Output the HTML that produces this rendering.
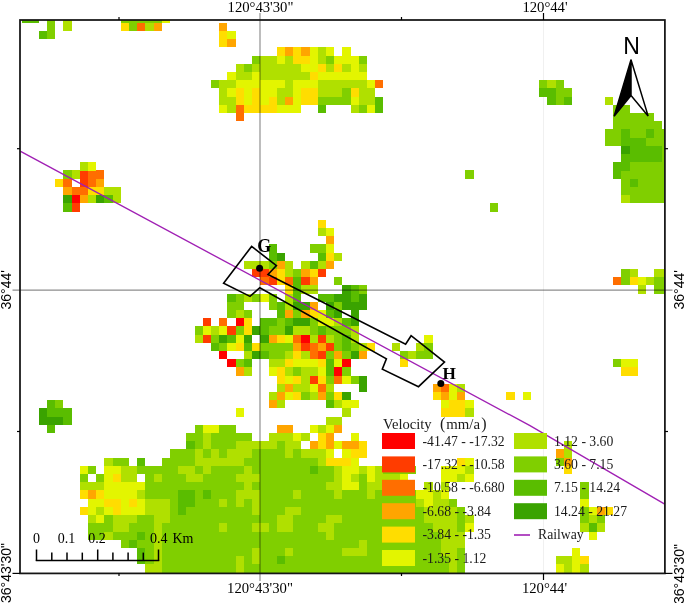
<!DOCTYPE html>
<html><head><meta charset="utf-8"><style>
html,body{margin:0;padding:0;background:#fff;}
svg{display:block;will-change:transform;}

.sf{font-family:"Liberation Serif",serif;}
.ss{font-family:"Liberation Sans",sans-serif;}
</style></head><body>
<svg width="685" height="603" viewBox="0 0 685 603">
<defs><clipPath id="mc"><rect x="20" y="20" width="645" height="553"/></clipPath></defs>
<rect width="685" height="603" fill="#fff"/>
<line x1="543.5" y1="21" x2="543.5" y2="572" stroke="#f0f0f0" stroke-width="1"/>
<g clip-path="url(#mc)" shape-rendering="crispEdges">
<path fill="#ff0000" d="M71.59 195.11h8.21v8.21h-8.21zM235.69 318.18h8.21v8.21h-8.21zM301.33 334.59h8.21v8.21h-8.21zM219.28 351.00h8.21v8.21h-8.21zM227.49 359.21h8.21v8.21h-8.21zM342.36 359.21h8.21v8.21h-8.21zM334.15 367.41h8.21v8.21h-8.21z"/>
<path fill="#ff3c00" d="M79.80 170.49h8.21v8.21h-8.21zM79.80 178.70h8.21v8.21h-8.21zM71.59 203.31h8.21v8.21h-8.21zM252.10 268.95h16.41v8.21h-16.41zM317.74 268.95h8.21v8.21h-8.21zM268.51 277.15h8.21v8.21h-8.21zM301.33 277.15h8.21v8.21h-8.21zM202.87 318.18h8.21v8.21h-8.21zM227.49 326.38h8.21v8.21h-8.21zM202.87 334.59h8.21v8.21h-8.21zM317.74 334.59h8.21v8.21h-8.21zM301.33 342.80h8.21v8.21h-8.21zM325.94 342.80h8.21v8.21h-8.21zM317.74 351.00h8.21v8.21h-8.21zM309.54 375.62h8.21v8.21h-8.21z"/>
<path fill="#ff6e00" d="M137.23 22.80h8.21v8.21h-8.21zM375.18 80.23h8.21v8.21h-8.21zM235.69 104.85h8.21v8.21h-8.21zM235.69 113.05h8.21v8.21h-8.21zM88.00 170.49h16.41v8.21h-16.41zM63.38 178.70h8.21v8.21h-8.21zM88.00 178.70h8.21v8.21h-8.21zM71.59 186.90h16.41v8.21h-16.41zM260.31 277.15h8.21v8.21h-8.21zM284.92 277.15h8.21v8.21h-8.21zM613.12 277.15h8.21v8.21h-8.21zM219.28 318.18h8.21v8.21h-8.21zM293.12 334.59h8.21v8.21h-8.21zM309.54 342.80h8.21v8.21h-8.21zM309.54 351.00h8.21v8.21h-8.21zM334.15 375.62h8.21v8.21h-8.21zM317.74 383.82h8.21v8.21h-8.21zM440.81 383.82h8.21v8.21h-8.21z"/>
<path fill="#ffa500" d="M153.64 22.80h8.21v8.21h-8.21zM219.28 22.80h8.21v8.21h-8.21zM227.49 39.21h8.21v8.21h-8.21zM284.92 47.42h8.21v8.21h-8.21zM301.33 47.42h8.21v8.21h-8.21zM284.92 96.64h8.21v8.21h-8.21zM96.20 178.70h8.21v8.21h-8.21zM63.38 186.90h8.21v8.21h-8.21zM79.80 195.11h8.21v8.21h-8.21zM325.94 236.13h8.21v8.21h-8.21zM276.71 260.75h8.21v8.21h-8.21zM325.94 260.75h8.21v8.21h-8.21zM268.51 268.95h8.21v8.21h-8.21zM301.33 268.95h8.21v8.21h-8.21zM309.54 277.15h8.21v8.21h-8.21zM309.54 301.77h8.21v8.21h-8.21zM284.92 309.98h8.21v8.21h-8.21zM301.33 309.98h8.21v8.21h-8.21zM268.51 334.59h8.21v8.21h-8.21zM293.12 342.80h8.21v8.21h-8.21zM317.74 342.80h8.21v8.21h-8.21zM334.15 351.00h8.21v8.21h-8.21zM358.77 351.00h8.21v8.21h-8.21zM235.69 367.41h8.21v8.21h-8.21zM284.92 383.82h8.21v8.21h-8.21zM432.61 383.82h8.21v8.21h-8.21zM276.71 392.03h8.21v8.21h-8.21zM317.74 392.03h8.21v8.21h-8.21zM440.81 392.03h8.21v8.21h-8.21zM457.23 392.03h8.21v8.21h-8.21zM268.51 400.23h8.21v8.21h-8.21zM276.71 424.85h16.41v8.21h-16.41zM334.15 424.85h8.21v8.21h-8.21zM325.94 433.05h8.21v8.21h-8.21zM309.54 441.25h8.21v8.21h-8.21zM325.94 441.25h8.21v8.21h-8.21zM342.36 441.25h16.41v8.21h-16.41zM555.69 449.46h8.21v8.21h-8.21zM563.89 457.67h8.21v8.21h-8.21zM88.00 490.49h8.21v8.21h-8.21zM596.71 506.90h8.21v8.21h-8.21z"/>
<path fill="#ffdd00" d="M120.82 22.80h8.21v8.21h-8.21zM219.28 31.01h8.21v8.21h-8.21zM219.28 39.21h8.21v8.21h-8.21zM276.71 47.42h8.21v8.21h-8.21zM293.12 47.42h8.21v8.21h-8.21zM293.12 55.62h16.41v8.21h-16.41zM317.74 63.83h8.21v8.21h-8.21zM334.15 63.83h8.21v8.21h-8.21zM309.54 72.03h8.21v8.21h-8.21zM235.69 88.44h8.21v8.21h-8.21zM252.10 88.44h8.21v8.21h-8.21zM301.33 88.44h16.41v8.21h-16.41zM350.56 88.44h8.21v8.21h-8.21zM235.69 96.64h8.21v8.21h-8.21zM252.10 96.64h8.21v8.21h-8.21zM268.51 96.64h8.21v8.21h-8.21zM301.33 96.64h16.41v8.21h-16.41zM243.89 104.85h32.82v8.21h-32.82zM55.18 178.70h8.21v8.21h-8.21zM88.00 186.90h16.41v8.21h-16.41zM317.74 219.72h8.21v8.21h-8.21zM325.94 252.54h8.21v8.21h-8.21zM276.71 268.95h8.21v8.21h-8.21zM309.54 268.95h8.21v8.21h-8.21zM276.71 277.15h8.21v8.21h-8.21zM629.53 277.15h8.21v8.21h-8.21zM284.92 285.36h8.21v8.21h-8.21zM309.54 309.98h8.21v8.21h-8.21zM243.89 318.18h8.21v8.21h-8.21zM243.89 326.38h8.21v8.21h-8.21zM276.71 334.59h8.21v8.21h-8.21zM235.69 342.80h8.21v8.21h-8.21zM252.10 342.80h8.21v8.21h-8.21zM366.97 342.80h8.21v8.21h-8.21zM293.12 351.00h8.21v8.21h-8.21zM284.92 359.21h8.21v8.21h-8.21zM317.74 359.21h8.21v8.21h-8.21zM399.79 359.21h8.21v8.21h-8.21zM276.71 367.41h8.21v8.21h-8.21zM621.33 367.41h16.41v8.21h-16.41zM276.71 375.62h8.21v8.21h-8.21zM293.12 375.62h8.21v8.21h-8.21zM317.74 375.62h8.21v8.21h-8.21zM293.12 392.03h8.21v8.21h-8.21zM334.15 392.03h8.21v8.21h-8.21zM432.61 392.03h8.21v8.21h-8.21zM506.46 392.03h8.21v8.21h-8.21zM449.02 400.23h16.41v8.21h-16.41zM440.81 408.44h24.62v8.21h-24.62zM317.74 433.05h8.21v8.21h-8.21zM317.74 441.25h8.21v8.21h-8.21zM358.77 441.25h8.21v8.21h-8.21zM350.56 449.46h16.41v8.21h-16.41zM325.94 457.67h24.62v8.21h-24.62zM457.23 457.67h8.21v8.21h-8.21zM563.89 465.87h8.21v8.21h-8.21zM112.61 474.07h8.21v8.21h-8.21zM79.80 490.49h8.21v8.21h-8.21zM96.20 490.49h8.21v8.21h-8.21zM104.41 498.69h16.41v8.21h-16.41zM129.03 498.69h8.21v8.21h-8.21zM79.80 506.90h8.21v8.21h-8.21zM112.61 506.90h8.21v8.21h-8.21zM604.91 506.90h8.21v8.21h-8.21zM580.30 556.12h8.21v8.21h-8.21z"/>
<path fill="#e3f500" d="M161.85 14.60h8.21v8.21h-8.21zM227.49 31.01h8.21v8.21h-8.21zM309.54 47.42h8.21v8.21h-8.21zM325.94 47.42h8.21v8.21h-8.21zM342.36 47.42h8.21v8.21h-8.21zM276.71 55.62h8.21v8.21h-8.21zM309.54 55.62h8.21v8.21h-8.21zM334.15 55.62h24.62v8.21h-24.62zM301.33 63.83h16.41v8.21h-16.41zM350.56 63.83h8.21v8.21h-8.21zM227.49 72.03h8.21v8.21h-8.21zM252.10 72.03h8.21v8.21h-8.21zM317.74 72.03h49.23v8.21h-49.23zM235.69 80.23h49.23v8.21h-49.23zM293.12 80.23h24.62v8.21h-24.62zM366.97 80.23h8.21v8.21h-8.21zM227.49 88.44h8.21v8.21h-8.21zM243.89 88.44h8.21v8.21h-8.21zM260.31 88.44h16.41v8.21h-16.41zM293.12 88.44h8.21v8.21h-8.21zM243.89 96.64h8.21v8.21h-8.21zM260.31 96.64h8.21v8.21h-8.21zM293.12 96.64h8.21v8.21h-8.21zM350.56 96.64h8.21v8.21h-8.21zM219.28 104.85h8.21v8.21h-8.21zM276.71 104.85h24.62v8.21h-24.62zM366.97 104.85h8.21v8.21h-8.21zM88.00 162.29h8.21v8.21h-8.21zM325.94 227.93h8.21v8.21h-8.21zM325.94 244.34h8.21v8.21h-8.21zM637.74 277.15h8.21v8.21h-8.21zM260.31 293.56h8.21v8.21h-8.21zM317.74 309.98h8.21v8.21h-8.21zM317.74 318.18h16.41v8.21h-16.41zM202.87 326.38h8.21v8.21h-8.21zM219.28 326.38h8.21v8.21h-8.21zM235.69 334.59h8.21v8.21h-8.21zM284.92 334.59h8.21v8.21h-8.21zM424.41 334.59h8.21v8.21h-8.21zM227.49 342.80h8.21v8.21h-8.21zM293.12 359.21h24.62v8.21h-24.62zM334.15 359.21h8.21v8.21h-8.21zM621.33 359.21h16.41v8.21h-16.41zM268.51 367.41h8.21v8.21h-8.21zM317.74 367.41h8.21v8.21h-8.21zM284.92 375.62h8.21v8.21h-8.21zM342.36 375.62h8.21v8.21h-8.21zM309.54 383.82h8.21v8.21h-8.21zM449.02 383.82h8.21v8.21h-8.21zM284.92 392.03h8.21v8.21h-8.21zM449.02 392.03h8.21v8.21h-8.21zM522.87 392.03h8.21v8.21h-8.21zM342.36 400.23h16.41v8.21h-16.41zM440.81 400.23h8.21v8.21h-8.21zM465.43 400.23h8.21v8.21h-8.21zM235.69 408.44h8.21v8.21h-8.21zM202.87 424.85h16.41v8.21h-16.41zM309.54 424.85h8.21v8.21h-8.21zM325.94 424.85h8.21v8.21h-8.21zM293.12 433.05h8.21v8.21h-8.21zM350.56 433.05h8.21v8.21h-8.21zM334.15 441.25h8.21v8.21h-8.21zM325.94 449.46h8.21v8.21h-8.21zM342.36 449.46h8.21v8.21h-8.21zM350.56 457.67h8.21v8.21h-8.21zM465.43 457.67h8.21v8.21h-8.21zM79.80 465.87h8.21v8.21h-8.21zM104.41 465.87h16.41v8.21h-16.41zM342.36 465.87h16.41v8.21h-16.41zM366.97 465.87h8.21v8.21h-8.21zM440.81 465.87h24.62v8.21h-24.62zM104.41 474.07h8.21v8.21h-8.21zM342.36 474.07h8.21v8.21h-8.21zM366.97 474.07h8.21v8.21h-8.21zM399.79 474.07h8.21v8.21h-8.21zM440.81 474.07h16.41v8.21h-16.41zM465.43 474.07h8.21v8.21h-8.21zM104.41 482.28h41.02v8.21h-41.02zM342.36 482.28h16.41v8.21h-16.41zM104.41 490.49h32.82v8.21h-32.82zM416.20 490.49h16.41v8.21h-16.41zM440.81 490.49h8.21v8.21h-8.21zM88.00 498.69h16.41v8.21h-16.41zM120.82 498.69h8.21v8.21h-8.21zM137.23 498.69h8.21v8.21h-8.21zM424.41 498.69h8.21v8.21h-8.21zM580.30 498.69h8.21v8.21h-8.21zM88.00 506.90h8.21v8.21h-8.21zM104.41 506.90h8.21v8.21h-8.21zM120.82 506.90h24.62v8.21h-24.62zM588.50 506.90h8.21v8.21h-8.21zM96.20 515.10h8.21v8.21h-8.21zM465.43 523.30h8.21v8.21h-8.21zM588.50 531.51h8.21v8.21h-8.21zM572.10 547.92h8.21v8.21h-8.21zM572.10 556.12h8.21v8.21h-8.21zM555.69 564.33h8.21v8.21h-8.21zM572.10 564.33h8.21v8.21h-8.21z"/>
<path fill="#b0e000" d="M63.38 14.60h8.21v8.21h-8.21zM63.38 22.80h8.21v8.21h-8.21zM145.44 22.80h8.21v8.21h-8.21zM317.74 47.42h8.21v8.21h-8.21zM260.31 55.62h16.41v8.21h-16.41zM284.92 55.62h8.21v8.21h-8.21zM317.74 55.62h8.21v8.21h-8.21zM235.69 63.83h8.21v8.21h-8.21zM252.10 63.83h49.23v8.21h-49.23zM325.94 63.83h8.21v8.21h-8.21zM342.36 63.83h8.21v8.21h-8.21zM358.77 63.83h8.21v8.21h-8.21zM235.69 72.03h16.41v8.21h-16.41zM260.31 72.03h49.23v8.21h-49.23zM219.28 80.23h16.41v8.21h-16.41zM284.92 80.23h8.21v8.21h-8.21zM317.74 80.23h49.23v8.21h-49.23zM547.48 80.23h8.21v8.21h-8.21zM219.28 88.44h8.21v8.21h-8.21zM276.71 88.44h16.41v8.21h-16.41zM317.74 88.44h24.62v8.21h-24.62zM358.77 88.44h16.41v8.21h-16.41zM219.28 96.64h16.41v8.21h-16.41zM276.71 96.64h8.21v8.21h-8.21zM358.77 96.64h16.41v8.21h-16.41zM604.91 96.64h8.21v8.21h-8.21zM227.49 104.85h8.21v8.21h-8.21zM350.56 104.85h8.21v8.21h-8.21zM79.80 162.29h8.21v8.21h-8.21zM71.59 170.49h8.21v8.21h-8.21zM104.41 186.90h16.41v8.21h-16.41zM88.00 195.11h8.21v8.21h-8.21zM112.61 195.11h8.21v8.21h-8.21zM621.33 195.11h8.21v8.21h-8.21zM317.74 227.93h8.21v8.21h-8.21zM334.15 252.54h8.21v8.21h-8.21zM243.89 260.75h24.62v8.21h-24.62zM284.92 260.75h8.21v8.21h-8.21zM301.33 260.75h8.21v8.21h-8.21zM317.74 260.75h8.21v8.21h-8.21zM284.92 268.95h8.21v8.21h-8.21zM629.53 268.95h8.21v8.21h-8.21zM654.14 268.95h16.41v8.21h-16.41zM645.94 277.15h8.21v8.21h-8.21zM301.33 285.36h16.41v8.21h-16.41zM637.74 285.36h8.21v8.21h-8.21zM243.89 293.56h8.21v8.21h-8.21zM284.92 293.56h8.21v8.21h-8.21zM284.92 301.77h8.21v8.21h-8.21zM235.69 309.98h8.21v8.21h-8.21zM334.15 318.18h8.21v8.21h-8.21zM211.07 326.38h8.21v8.21h-8.21zM293.12 326.38h16.41v8.21h-16.41zM350.56 326.38h8.21v8.21h-8.21zM194.67 334.59h8.21v8.21h-8.21zM309.54 334.59h8.21v8.21h-8.21zM325.94 334.59h8.21v8.21h-8.21zM350.56 334.59h8.21v8.21h-8.21zM358.77 342.80h8.21v8.21h-8.21zM391.59 342.80h8.21v8.21h-8.21zM416.20 342.80h8.21v8.21h-8.21zM243.89 351.00h8.21v8.21h-8.21zM284.92 351.00h8.21v8.21h-8.21zM301.33 351.00h8.21v8.21h-8.21zM408.00 351.00h8.21v8.21h-8.21zM268.51 359.21h16.41v8.21h-16.41zM243.89 367.41h8.21v8.21h-8.21zM284.92 367.41h8.21v8.21h-8.21zM301.33 367.41h16.41v8.21h-16.41zM301.33 375.62h8.21v8.21h-8.21zM276.71 383.82h8.21v8.21h-8.21zM293.12 383.82h16.41v8.21h-16.41zM325.94 383.82h8.21v8.21h-8.21zM457.23 383.82h8.21v8.21h-8.21zM268.51 392.03h8.21v8.21h-8.21zM309.54 392.03h8.21v8.21h-8.21zM276.71 400.23h8.21v8.21h-8.21zM334.15 400.23h8.21v8.21h-8.21zM342.36 408.44h8.21v8.21h-8.21zM465.43 408.44h8.21v8.21h-8.21zM325.94 416.64h16.41v8.21h-16.41zM317.74 424.85h8.21v8.21h-8.21zM202.87 433.05h8.21v8.21h-8.21zM268.51 433.05h24.62v8.21h-24.62zM301.33 433.05h8.21v8.21h-8.21zM202.87 441.25h8.21v8.21h-8.21zM235.69 441.25h41.02v8.21h-41.02zM284.92 441.25h16.41v8.21h-16.41zM563.89 441.25h8.21v8.21h-8.21zM194.67 449.46h8.21v8.21h-8.21zM211.07 449.46h8.21v8.21h-8.21zM227.49 449.46h24.62v8.21h-24.62zM284.92 449.46h8.21v8.21h-8.21zM301.33 449.46h24.62v8.21h-24.62zM563.89 449.46h8.21v8.21h-8.21zM104.41 457.67h8.21v8.21h-8.21zM194.67 457.67h49.23v8.21h-49.23zM317.74 457.67h8.21v8.21h-8.21zM120.82 465.87h16.41v8.21h-16.41zM178.25 465.87h16.41v8.21h-16.41zM202.87 465.87h8.21v8.21h-8.21zM243.89 465.87h8.21v8.21h-8.21zM334.15 465.87h8.21v8.21h-8.21zM358.77 465.87h8.21v8.21h-8.21zM375.18 465.87h8.21v8.21h-8.21zM465.43 465.87h8.21v8.21h-8.21zM120.82 474.07h16.41v8.21h-16.41zM153.64 474.07h8.21v8.21h-8.21zM186.46 474.07h16.41v8.21h-16.41zM235.69 474.07h24.62v8.21h-24.62zM334.15 474.07h8.21v8.21h-8.21zM350.56 474.07h8.21v8.21h-8.21zM375.18 474.07h24.62v8.21h-24.62zM457.23 474.07h8.21v8.21h-8.21zM79.80 482.28h24.62v8.21h-24.62zM243.89 482.28h8.21v8.21h-8.21zM325.94 482.28h16.41v8.21h-16.41zM366.97 482.28h16.41v8.21h-16.41zM424.41 482.28h8.21v8.21h-8.21zM440.81 482.28h8.21v8.21h-8.21zM137.23 490.49h8.21v8.21h-8.21zM235.69 490.49h24.62v8.21h-24.62zM293.12 490.49h8.21v8.21h-8.21zM334.15 490.49h8.21v8.21h-8.21zM366.97 490.49h8.21v8.21h-8.21zM432.61 490.49h8.21v8.21h-8.21zM145.44 498.69h24.62v8.21h-24.62zM219.28 498.69h8.21v8.21h-8.21zM235.69 498.69h8.21v8.21h-8.21zM252.10 498.69h8.21v8.21h-8.21zM416.20 498.69h8.21v8.21h-8.21zM432.61 498.69h16.41v8.21h-16.41zM96.20 506.90h8.21v8.21h-8.21zM145.44 506.90h24.62v8.21h-24.62zM252.10 506.90h8.21v8.21h-8.21zM284.92 506.90h16.41v8.21h-16.41zM424.41 506.90h32.82v8.21h-32.82zM88.00 515.10h8.21v8.21h-8.21zM112.61 515.10h24.62v8.21h-24.62zM153.64 515.10h16.41v8.21h-16.41zM276.71 515.10h16.41v8.21h-16.41zM325.94 515.10h16.41v8.21h-16.41zM424.41 515.10h32.82v8.21h-32.82zM465.43 515.10h8.21v8.21h-8.21zM588.50 515.10h8.21v8.21h-8.21zM112.61 523.30h16.41v8.21h-16.41zM153.64 523.30h8.21v8.21h-8.21zM219.28 523.30h8.21v8.21h-8.21zM252.10 523.30h16.41v8.21h-16.41zM276.71 523.30h16.41v8.21h-16.41zM317.74 523.30h16.41v8.21h-16.41zM432.61 523.30h24.62v8.21h-24.62zM580.30 523.30h8.21v8.21h-8.21zM596.71 523.30h8.21v8.21h-8.21zM104.41 531.51h8.21v8.21h-8.21zM153.64 531.51h8.21v8.21h-8.21zM325.94 531.51h8.21v8.21h-8.21zM440.81 531.51h24.62v8.21h-24.62zM153.64 539.71h8.21v8.21h-8.21zM358.77 539.71h8.21v8.21h-8.21zM440.81 539.71h24.62v8.21h-24.62zM153.64 547.92h8.21v8.21h-8.21zM252.10 547.92h8.21v8.21h-8.21zM284.92 547.92h8.21v8.21h-8.21zM342.36 547.92h24.62v8.21h-24.62zM440.81 547.92h16.41v8.21h-16.41zM153.64 556.12h8.21v8.21h-8.21zM235.69 556.12h8.21v8.21h-8.21zM252.10 556.12h8.21v8.21h-8.21zM449.02 556.12h8.21v8.21h-8.21zM555.69 556.12h16.41v8.21h-16.41zM145.44 564.33h16.41v8.21h-16.41zM235.69 564.33h8.21v8.21h-8.21zM449.02 564.33h8.21v8.21h-8.21zM563.89 564.33h8.21v8.21h-8.21zM580.30 564.33h8.21v8.21h-8.21z"/>
<path fill="#80cf00" d="M46.98 14.60h8.21v8.21h-8.21zM120.82 14.60h41.02v8.21h-41.02zM46.98 22.80h8.21v8.21h-8.21zM129.03 22.80h8.21v8.21h-8.21zM46.98 31.01h8.21v8.21h-8.21zM252.10 55.62h8.21v8.21h-8.21zM325.94 55.62h8.21v8.21h-8.21zM358.77 55.62h8.21v8.21h-8.21zM243.89 63.83h8.21v8.21h-8.21zM211.07 80.23h8.21v8.21h-8.21zM539.27 80.23h8.21v8.21h-8.21zM555.69 80.23h8.21v8.21h-8.21zM342.36 88.44h8.21v8.21h-8.21zM555.69 88.44h16.41v8.21h-16.41zM317.74 96.64h32.82v8.21h-32.82zM555.69 96.64h8.21v8.21h-8.21zM358.77 104.85h8.21v8.21h-8.21zM613.12 104.85h16.41v8.21h-16.41zM613.12 113.05h41.02v8.21h-41.02zM613.12 121.26h49.23v8.21h-49.23zM604.91 129.47h16.41v8.21h-16.41zM629.53 129.47h16.41v8.21h-16.41zM654.14 129.47h16.41v8.21h-16.41zM604.91 137.67h16.41v8.21h-16.41zM645.94 137.67h24.62v8.21h-24.62zM662.35 145.88h8.21v8.21h-8.21zM662.35 154.08h8.21v8.21h-8.21zM629.53 162.29h49.23v8.21h-49.23zM63.38 170.49h8.21v8.21h-8.21zM465.43 170.49h8.21v8.21h-8.21zM621.33 170.49h49.23v8.21h-49.23zM621.33 178.70h8.21v8.21h-8.21zM637.74 178.70h32.82v8.21h-32.82zM621.33 186.90h49.23v8.21h-49.23zM629.53 195.11h41.02v8.21h-41.02zM490.05 203.31h8.21v8.21h-8.21zM309.54 244.34h16.41v8.21h-16.41zM268.51 260.75h8.21v8.21h-8.21zM293.12 268.95h8.21v8.21h-8.21zM621.33 268.95h8.21v8.21h-8.21zM334.15 277.15h8.21v8.21h-8.21zM621.33 277.15h8.21v8.21h-8.21zM654.14 277.15h16.41v8.21h-16.41zM358.77 285.36h8.21v8.21h-8.21zM654.14 285.36h16.41v8.21h-16.41zM235.69 293.56h8.21v8.21h-8.21zM252.10 293.56h8.21v8.21h-8.21zM268.51 293.56h8.21v8.21h-8.21zM227.49 301.77h16.41v8.21h-16.41zM268.51 301.77h8.21v8.21h-8.21zM334.15 301.77h8.21v8.21h-8.21zM227.49 309.98h8.21v8.21h-8.21zM243.89 309.98h8.21v8.21h-8.21zM293.12 309.98h8.21v8.21h-8.21zM276.71 318.18h8.21v8.21h-8.21zM309.54 318.18h8.21v8.21h-8.21zM194.67 326.38h8.21v8.21h-8.21zM235.69 326.38h8.21v8.21h-8.21zM268.51 326.38h16.41v8.21h-16.41zM309.54 326.38h8.21v8.21h-8.21zM325.94 326.38h24.62v8.21h-24.62zM211.07 334.59h8.21v8.21h-8.21zM334.15 334.59h8.21v8.21h-8.21zM219.28 342.80h8.21v8.21h-8.21zM260.31 342.80h32.82v8.21h-32.82zM334.15 342.80h8.21v8.21h-8.21zM350.56 342.80h8.21v8.21h-8.21zM424.41 342.80h8.21v8.21h-8.21zM268.51 351.00h16.41v8.21h-16.41zM325.94 351.00h8.21v8.21h-8.21zM342.36 351.00h8.21v8.21h-8.21zM399.79 351.00h8.21v8.21h-8.21zM416.20 351.00h16.41v8.21h-16.41zM235.69 359.21h8.21v8.21h-8.21zM613.12 359.21h8.21v8.21h-8.21zM293.12 367.41h8.21v8.21h-8.21zM342.36 367.41h8.21v8.21h-8.21zM325.94 375.62h8.21v8.21h-8.21zM350.56 375.62h8.21v8.21h-8.21zM301.33 392.03h8.21v8.21h-8.21zM325.94 392.03h8.21v8.21h-8.21zM55.18 400.23h8.21v8.21h-8.21zM194.67 424.85h8.21v8.21h-8.21zM219.28 424.85h16.41v8.21h-16.41zM186.46 433.05h16.41v8.21h-16.41zM211.07 433.05h41.02v8.21h-41.02zM194.67 441.25h8.21v8.21h-8.21zM211.07 441.25h24.62v8.21h-24.62zM276.71 441.25h8.21v8.21h-8.21zM170.05 449.46h24.62v8.21h-24.62zM202.87 449.46h8.21v8.21h-8.21zM219.28 449.46h8.21v8.21h-8.21zM252.10 449.46h32.82v8.21h-32.82zM293.12 449.46h8.21v8.21h-8.21zM112.61 457.67h16.41v8.21h-16.41zM161.85 457.67h32.82v8.21h-32.82zM243.89 457.67h73.84v8.21h-73.84zM555.69 457.67h8.21v8.21h-8.21zM88.00 465.87h8.21v8.21h-8.21zM137.23 465.87h41.02v8.21h-41.02zM194.67 465.87h8.21v8.21h-8.21zM211.07 465.87h32.82v8.21h-32.82zM252.10 465.87h57.44v8.21h-57.44zM317.74 465.87h16.41v8.21h-16.41zM383.38 465.87h32.82v8.21h-32.82zM79.80 474.07h8.21v8.21h-8.21zM96.20 474.07h8.21v8.21h-8.21zM145.44 474.07h8.21v8.21h-8.21zM161.85 474.07h24.62v8.21h-24.62zM202.87 474.07h32.82v8.21h-32.82zM260.31 474.07h73.84v8.21h-73.84zM358.77 474.07h8.21v8.21h-8.21zM145.44 482.28h98.46v8.21h-98.46zM252.10 482.28h73.84v8.21h-73.84zM358.77 482.28h8.21v8.21h-8.21zM383.38 482.28h24.62v8.21h-24.62zM580.30 482.28h8.21v8.21h-8.21zM145.44 490.49h32.82v8.21h-32.82zM194.67 490.49h8.21v8.21h-8.21zM211.07 490.49h24.62v8.21h-24.62zM260.31 490.49h32.82v8.21h-32.82zM301.33 490.49h32.82v8.21h-32.82zM342.36 490.49h24.62v8.21h-24.62zM375.18 490.49h41.02v8.21h-41.02zM580.30 490.49h8.21v8.21h-8.21zM170.05 498.69h8.21v8.21h-8.21zM194.67 498.69h24.62v8.21h-24.62zM227.49 498.69h8.21v8.21h-8.21zM243.89 498.69h8.21v8.21h-8.21zM260.31 498.69h155.90v8.21h-155.90zM449.02 498.69h8.21v8.21h-8.21zM170.05 506.90h8.21v8.21h-8.21zM186.46 506.90h65.64v8.21h-65.64zM260.31 506.90h24.62v8.21h-24.62zM301.33 506.90h123.08v8.21h-123.08zM457.23 506.90h8.21v8.21h-8.21zM580.30 506.90h8.21v8.21h-8.21zM104.41 515.10h8.21v8.21h-8.21zM137.23 515.10h16.41v8.21h-16.41zM170.05 515.10h106.67v8.21h-106.67zM293.12 515.10h32.82v8.21h-32.82zM342.36 515.10h82.05v8.21h-82.05zM457.23 515.10h8.21v8.21h-8.21zM580.30 515.10h8.21v8.21h-8.21zM596.71 515.10h8.21v8.21h-8.21zM88.00 523.30h24.62v8.21h-24.62zM129.03 523.30h24.62v8.21h-24.62zM161.85 523.30h57.44v8.21h-57.44zM227.49 523.30h24.62v8.21h-24.62zM268.51 523.30h8.21v8.21h-8.21zM293.12 523.30h24.62v8.21h-24.62zM334.15 523.30h98.46v8.21h-98.46zM457.23 523.30h8.21v8.21h-8.21zM88.00 531.51h16.41v8.21h-16.41zM112.61 531.51h24.62v8.21h-24.62zM145.44 531.51h8.21v8.21h-8.21zM161.85 531.51h164.10v8.21h-164.10zM334.15 531.51h106.67v8.21h-106.67zM120.82 539.71h8.21v8.21h-8.21zM137.23 539.71h16.41v8.21h-16.41zM161.85 539.71h196.92v8.21h-196.92zM366.97 539.71h73.84v8.21h-73.84zM145.44 547.92h8.21v8.21h-8.21zM161.85 547.92h90.25v8.21h-90.25zM260.31 547.92h24.62v8.21h-24.62zM293.12 547.92h49.23v8.21h-49.23zM366.97 547.92h73.84v8.21h-73.84zM457.23 547.92h8.21v8.21h-8.21zM145.44 556.12h8.21v8.21h-8.21zM161.85 556.12h73.84v8.21h-73.84zM243.89 556.12h8.21v8.21h-8.21zM260.31 556.12h16.41v8.21h-16.41zM284.92 556.12h164.10v8.21h-164.10zM457.23 556.12h8.21v8.21h-8.21zM161.85 564.33h73.84v8.21h-73.84zM243.89 564.33h205.12v8.21h-205.12zM457.23 564.33h8.21v8.21h-8.21z"/>
<path fill="#5abd00" d="M22.36 14.60h16.41v8.21h-16.41zM38.77 31.01h8.21v8.21h-8.21zM539.27 88.44h16.41v8.21h-16.41zM375.18 96.64h8.21v8.21h-8.21zM547.48 96.64h8.21v8.21h-8.21zM563.89 96.64h8.21v8.21h-8.21zM317.74 104.85h8.21v8.21h-8.21zM375.18 104.85h8.21v8.21h-8.21zM621.33 129.47h8.21v8.21h-8.21zM645.94 129.47h8.21v8.21h-8.21zM621.33 137.67h24.62v8.21h-24.62zM629.53 145.88h32.82v8.21h-32.82zM621.33 154.08h41.02v8.21h-41.02zM613.12 162.29h16.41v8.21h-16.41zM613.12 170.49h8.21v8.21h-8.21zM629.53 178.70h8.21v8.21h-8.21zM104.41 195.11h8.21v8.21h-8.21zM63.38 203.31h8.21v8.21h-8.21zM268.51 244.34h8.21v8.21h-8.21zM268.51 252.54h8.21v8.21h-8.21zM317.74 252.54h8.21v8.21h-8.21zM309.54 260.75h8.21v8.21h-8.21zM293.12 277.15h8.21v8.21h-8.21zM293.12 285.36h8.21v8.21h-8.21zM350.56 285.36h8.21v8.21h-8.21zM227.49 293.56h8.21v8.21h-8.21zM293.12 293.56h8.21v8.21h-8.21zM317.74 293.56h16.41v8.21h-16.41zM350.56 293.56h8.21v8.21h-8.21zM276.71 301.77h8.21v8.21h-8.21zM276.71 309.98h8.21v8.21h-8.21zM325.94 309.98h8.21v8.21h-8.21zM260.31 318.18h16.41v8.21h-16.41zM284.92 318.18h8.21v8.21h-8.21zM342.36 318.18h8.21v8.21h-8.21zM260.31 326.38h8.21v8.21h-8.21zM317.74 326.38h8.21v8.21h-8.21zM227.49 334.59h8.21v8.21h-8.21zM342.36 334.59h8.21v8.21h-8.21zM211.07 342.80h8.21v8.21h-8.21zM243.89 342.80h8.21v8.21h-8.21zM342.36 342.80h8.21v8.21h-8.21zM260.31 351.00h8.21v8.21h-8.21zM243.89 359.21h8.21v8.21h-8.21zM325.94 359.21h8.21v8.21h-8.21zM325.94 367.41h8.21v8.21h-8.21zM46.98 400.23h8.21v8.21h-8.21zM325.94 400.23h8.21v8.21h-8.21zM46.98 408.44h24.62v8.21h-24.62zM63.38 416.64h8.21v8.21h-8.21zM46.98 424.85h8.21v8.21h-8.21zM186.46 441.25h8.21v8.21h-8.21zM137.23 457.67h8.21v8.21h-8.21zM309.54 465.87h8.21v8.21h-8.21zM178.25 490.49h16.41v8.21h-16.41zM202.87 490.49h8.21v8.21h-8.21zM178.25 498.69h16.41v8.21h-16.41zM178.25 506.90h8.21v8.21h-8.21zM588.50 523.30h8.21v8.21h-8.21zM137.23 531.51h8.21v8.21h-8.21zM129.03 539.71h8.21v8.21h-8.21zM137.23 547.92h8.21v8.21h-8.21zM137.23 556.12h8.21v8.21h-8.21zM276.71 556.12h8.21v8.21h-8.21z"/>
<path fill="#3aa300" d="M621.33 145.88h8.21v8.21h-8.21zM63.38 195.11h8.21v8.21h-8.21zM96.20 195.11h8.21v8.21h-8.21zM276.71 252.54h8.21v8.21h-8.21zM342.36 285.36h8.21v8.21h-8.21zM334.15 293.56h16.41v8.21h-16.41zM358.77 293.56h8.21v8.21h-8.21zM293.12 301.77h16.41v8.21h-16.41zM325.94 301.77h8.21v8.21h-8.21zM342.36 301.77h24.62v8.21h-24.62zM334.15 309.98h8.21v8.21h-8.21zM350.56 309.98h8.21v8.21h-8.21zM293.12 318.18h16.41v8.21h-16.41zM350.56 318.18h8.21v8.21h-8.21zM252.10 326.38h8.21v8.21h-8.21zM284.92 326.38h8.21v8.21h-8.21zM219.28 334.59h8.21v8.21h-8.21zM243.89 334.59h8.21v8.21h-8.21zM260.31 334.59h8.21v8.21h-8.21zM252.10 351.00h8.21v8.21h-8.21zM350.56 351.00h8.21v8.21h-8.21zM358.77 375.62h8.21v8.21h-8.21zM358.77 383.82h8.21v8.21h-8.21zM342.36 392.03h8.21v8.21h-8.21zM38.77 408.44h8.21v8.21h-8.21zM38.77 416.64h24.62v8.21h-24.62z"/>
</g>
<!-- grid lines -->
<line x1="260" y1="13" x2="260" y2="581" stroke="#000" stroke-opacity="0.44" stroke-width="1.2"/>
<line x1="12.5" y1="290.2" x2="672.5" y2="290.2" stroke="#000" stroke-opacity="0.45" stroke-width="1.3"/>
<!-- railway -->
<polyline points="20.6,151.3 530,425.7 664.3,503.8" fill="none" stroke="#a020b4" stroke-width="1.35"/>
<!-- G-H polygon -->
<polygon points="251.6,246.4 276.4,265.6 268,274.4 405.6,344.3 411.1,335.7 444.5,362.1 418.5,386.7 382.3,369.1 386.4,358.9 259.8,287.7 250,296.4 223.6,283.2" fill="none" stroke="#000" stroke-width="1.6" stroke-linejoin="miter"/>
<circle cx="259.6" cy="268.2" r="3.5" fill="#000"/>
<circle cx="440.8" cy="383.5" r="3.5" fill="#000"/>
<text class="sf" x="257.2" y="252.3" font-size="18" font-weight="bold">G</text>
<text class="sf" x="442.6" y="379.4" font-size="17.2" font-weight="bold">H</text>
<!-- frame -->
<rect x="20" y="20" width="644.9" height="553.4" fill="none" stroke="#151515" stroke-width="1.75"/>
<!-- ticks -->
<g stroke="#000" stroke-width="1.2">
<line x1="543.5" y1="13" x2="543.5" y2="20"/>
<line x1="543.5" y1="573" x2="543.5" y2="580"/>
<line x1="119" y1="17" x2="119" y2="20"/>
<line x1="401.5" y1="17" x2="401.5" y2="20"/>
<line x1="119" y1="573" x2="119" y2="576"/>
<line x1="401.5" y1="573" x2="401.5" y2="576"/>
<line x1="17" y1="148.7" x2="20" y2="148.7"/>
<line x1="17" y1="431.5" x2="20" y2="431.5"/>
<line x1="665" y1="148.7" x2="668" y2="148.7"/>
<line x1="665" y1="431.5" x2="668" y2="431.5"/>
<line x1="12.5" y1="573.4" x2="20" y2="573.4"/>
<line x1="665" y1="573.4" x2="672.5" y2="573.4"/>
</g>
<!-- labels -->
<g class="sf" font-size="14.7" fill="#000">
<text x="260.5" y="11.6" text-anchor="middle">120°43'30"</text>
<text x="545" y="11.6" text-anchor="middle">120°44'</text>
<text x="260" y="593" text-anchor="middle">120°43'30"</text>
<text x="544.5" y="593" text-anchor="middle">120°44'</text>
</g>
<g class="ss" font-size="14" fill="#000">
<text transform="translate(10.8,289.8) rotate(-90)" text-anchor="middle">36°44'</text>
<text transform="translate(10.8,573) rotate(-90)" text-anchor="middle">36°43'30"</text>
<text transform="translate(684,289.8) rotate(-90)" text-anchor="middle">36°44'</text>
<text transform="translate(684,574) rotate(-90)" text-anchor="middle">36°43'30"</text>
</g>
<!-- north arrow -->
<text class="ss" x="631.5" y="53.5" font-size="23" text-anchor="middle">N</text>
<polygon points="631,59.8 614.1,116.2 631,95.5" fill="#000" stroke="#000" stroke-width="1.5" stroke-linejoin="miter"/>
<polygon points="631,59.8 648.1,115.9 631,95.5" fill="#fff" stroke="#000" stroke-width="1.5" stroke-linejoin="miter"/>
<!-- legend -->
<g class="sf" font-size="14" fill="#1a1a1a">
<text x="383" y="428.8" font-size="14.6">Velocity</text><text x="439.9" y="428.8" font-size="16">(</text><text x="446.3" y="428.8" font-size="14.8">mm/a</text><text x="481.2" y="428.8" font-size="16">)</text>
</g>
<g>
<rect x="382" y="433" width="33" height="16" fill="#ff0000"/>
<rect x="382" y="456.4" width="33" height="16" fill="#ff3c00"/>
<rect x="382" y="479.8" width="33" height="16" fill="#ff6e00"/>
<rect x="382" y="503.2" width="33" height="16" fill="#ffa500"/>
<rect x="382" y="526.6" width="33" height="16" fill="#ffdd00"/>
<rect x="382" y="550" width="33" height="16" fill="#e3f500"/>
<rect x="514" y="433" width="33" height="16" fill="#b0e000"/>
<rect x="514" y="456.4" width="33" height="16" fill="#80cf00"/>
<rect x="514" y="479.8" width="33" height="16" fill="#5abd00"/>
<rect x="514" y="503.2" width="33" height="16" fill="#3aa300"/>
<line x1="514" y1="535" x2="530" y2="535" stroke="#a020b4" stroke-width="1.6"/>
</g>
<g class="sf" font-size="13.7" fill="#1a1a1a">
<text x="422.5" y="445.6">-41.47 - -17.32</text>
<text x="422.5" y="469">-17.32 - -10.58</text>
<text x="422.5" y="492.4">-10.58 - -6.680</text>
<text x="422.5" y="515.8">-6.68 - -3.84</text>
<text x="422.5" y="539.2">-3.84 - -1.35</text>
<text x="422.5" y="562.6">-1.35 - 1.12</text>
<text x="554" y="445.6">1.12 - 3.60</text>
<text x="554" y="469">3.60 - 7.15</text>
<text x="554" y="492.4">7.15 - 14.24</text>
<text x="554" y="515.8">14.24 - 21.27</text>
<text x="538" y="539">Railway</text>
</g>
<!-- scale bar -->
<g class="sf" font-size="14" fill="#000">
<text x="36.5" y="543" text-anchor="middle">0</text>
<text x="66.5" y="543" text-anchor="middle">0.1</text>
<text x="97" y="543" text-anchor="middle">0.2</text>
<text x="150" y="543">0.4</text><text x="172.4" y="543">Km</text>
</g>
<g stroke="#000" stroke-width="1.5">
<line x1="35.8" y1="560.6" x2="159.2" y2="560.6"/>
<line x1="36.5" y1="549.5" x2="36.5" y2="561"/>
<line x1="97.7" y1="549.5" x2="97.7" y2="561"/>
<line x1="158.5" y1="549.5" x2="158.5" y2="561"/>
<line x1="51.8" y1="552.6" x2="51.8" y2="561"/>
<line x1="67" y1="552.6" x2="67" y2="561"/>
<line x1="82.3" y1="552.6" x2="82.3" y2="561"/>
<line x1="112.9" y1="552.6" x2="112.9" y2="561"/>
<line x1="128.1" y1="552.6" x2="128.1" y2="561"/>
<line x1="143.3" y1="552.6" x2="143.3" y2="561"/>
</g>
</svg>
</body></html>
